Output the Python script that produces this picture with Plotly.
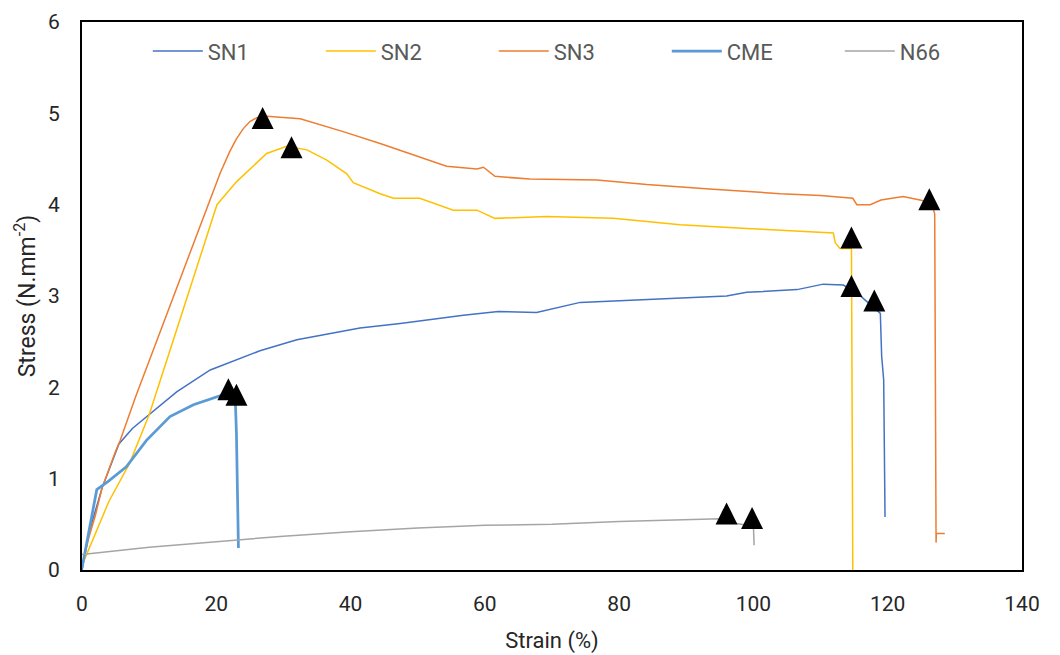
import plotly.graph_objects as go

# Stress-strain curves (strain in %, stress in N/mm^2)
sn1_strain = [0, 1, 3, 5.5, 7.5, 9.6, 14.1, 19.1, 26.5, 32, 41.4, 47.4, 56.8, 62, 67.7,
              74.2, 84.1, 96, 99, 106.5, 110.4, 113.4, 116.1, 118.9, 119.1, 119.4, 119.6]
sn1_stress = [0, 0.4, 0.9, 1.38, 1.55, 1.68, 1.95, 2.19, 2.40, 2.52, 2.65, 2.70, 2.79, 2.83, 2.82,
              2.93, 2.96, 3.00, 3.04, 3.07, 3.13, 3.12, 2.99, 2.81, 2.34, 2.08, 0.58]

sn2_strain = [0, 2, 4, 7.1, 10, 14.1, 17, 20.1, 23, 27.5, 30.5, 33.5, 36.4, 39.4, 40.4,
              44.4, 46.4, 50.3, 55.3, 58.8, 61.5, 69.2, 79.1, 89.1, 99, 111.9, 112.2,
              112.9, 114.6, 114.8]
sn2_stress = [0.05, 0.4, 0.75, 1.17, 1.7, 2.63, 3.3, 4.0, 4.25, 4.56, 4.64, 4.60, 4.49, 4.34, 4.24,
              4.12, 4.07, 4.07, 3.94, 3.94, 3.85, 3.87, 3.85, 3.78, 3.74, 3.69, 3.58,
              3.52, 3.52, 0]

sn3_strain = [0, 1, 2, 3, 5, 5.7, 8, 12, 16, 20.6, 22, 23, 24, 25, 26, 27, 32.5, 38.9, 44.4, 50, 54.3,
              58.8, 59.8, 61.5, 66.7, 76.7, 84.1, 94, 104, 110, 114.8, 115.4, 117.4, 119,
              122.3, 124.8, 126.5, 127.0, 127.2, 127.25, 128.5]
sn3_stress = [0.05, 0.35, 0.6, 0.9, 1.3, 1.42, 1.9, 2.68, 3.47, 4.35, 4.58, 4.72, 4.83, 4.91, 4.95,
              4.97, 4.94, 4.80, 4.67, 4.53, 4.42, 4.39, 4.41, 4.31, 4.28, 4.27, 4.22, 4.17,
              4.12, 4.10, 4.07, 4.00, 4.00, 4.05, 4.09, 4.05, 4.02, 3.90, 0.30, 0.40, 0.40]

cme_strain = [0, 2.2, 3.9, 6.6, 9.6, 13.1, 16.6, 20.1, 21.5, 22.8, 23.0, 23.3]
cme_stress = [0.02, 0.88, 0.97, 1.13, 1.42, 1.68, 1.81, 1.90, 1.93, 1.93, 1.5, 0.24]

n66_strain = [0, 5, 10, 20, 30, 40, 50, 60, 70, 80, 90, 95, 97.5, 100, 100.1]
n66_stress = [0.17, 0.21, 0.25, 0.31, 0.37, 0.42, 0.46, 0.49, 0.50, 0.53, 0.55, 0.56, 0.51, 0.48, 0.27]

# Failure / peak points marked with black triangles
mark_strain = [26.9, 31.2, 114.6, 114.6, 118.0, 126.2, 21.8, 23.0, 96.0, 99.8]
mark_stress = [5.07, 4.75, 3.76, 3.23, 3.07, 4.18, 2.10, 2.04, 0.74, 0.69]

series = [
    ("SN1", sn1_strain, sn1_stress, "#4472C4", 1.5),
    ("SN2", sn2_strain, sn2_stress, "#FFC000", 1.5),
    ("SN3", sn3_strain, sn3_stress, "#ED7D31", 1.5),
    ("CME", cme_strain, cme_stress, "#5B9BD5", 2.75),
    ("N66", n66_strain, n66_stress, "#A5A5A5", 1.5),
]

FONT = "Roboto, Lato, sans-serif"

fig = go.Figure()
for name, xs, ys, color, width in series:
    fig.add_trace(go.Scatter(x=xs, y=ys, mode="lines", name=name,
                             line=dict(color=color, width=width)))

fig.add_trace(go.Scatter(x=mark_strain, y=mark_stress, mode="markers", showlegend=False,
                         marker=dict(symbol="arrow-up", size=22, color="black",
                                     line=dict(width=0))))

axis_common = dict(showline=True, linecolor="black", linewidth=2, mirror=True,
                   showgrid=False, zeroline=False, ticks="", automargin=False,
                   tickfont=dict(family=FONT, size=21, color="#262626"))

fig.update_layout(
    width=1060, height=655,
    margin=dict(l=82, r=38, t=22, b=85),
    paper_bgcolor="white", plot_bgcolor="white",
    font=dict(family=FONT, color="#404040"),
    xaxis=dict(range=[0, 140], dtick=20, ticklabelstandoff=14,
               title=dict(text="Strain (%)", standoff=17,
                          font=dict(size=22, family=FONT, color="#262626")), **axis_common),
    yaxis=dict(range=[0, 6], dtick=1, ticklabelstandoff=16,
               title=dict(text="Stress (N.mm<sup>-2</sup>)", standoff=6,
                          font=dict(size=23, family=FONT, color="#262626")), **axis_common),
    legend=dict(orientation="h", x=0.070, y=0.985, xanchor="left", yanchor="top",
                font=dict(family=FONT, size=22, color="#595959"),
                itemwidth=50, entrywidth=108, entrywidthmode="pixels",
                bgcolor="rgba(0,0,0,0)"),
)

fig.write_html("out.html")
